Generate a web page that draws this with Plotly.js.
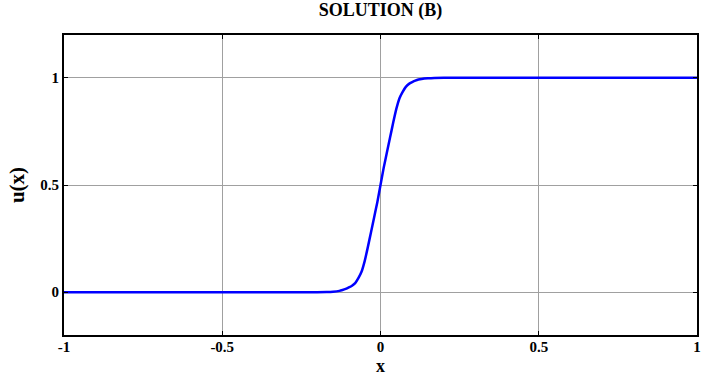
<!DOCTYPE html>
<html>
<head>
<meta charset="utf-8">
<script src="https://cdn.plot.ly/plotly-3.0.1.min.js"></script>
<style>html,body{margin:0;padding:0;background:#fff;}#chart{width:705px;height:377px;}</style>
</head>
<body>
<div id="chart"></div>
<script>
var xValues = [-1, -0.9, -0.8, -0.7, -0.6, -0.5, -0.4, -0.3, -0.2, -0.17, -0.15, -0.13, -0.12, -0.11, -0.1, -0.09, -0.08, -0.07, -0.06, -0.05, -0.04, -0.03, -0.02, -0.01, 0, 0.01, 0.02, 0.03, 0.04, 0.05, 0.06, 0.07, 0.08, 0.09, 0.1, 0.11, 0.12, 0.13, 0.15, 0.17, 0.2, 0.3, 0.4, 0.5, 0.6, 0.7, 0.8, 0.9, 1];
var uValues = [0, 0, 0, 0, 0, 0, 0, 0, 0, 0.0005, 0.002, 0.006, 0.01, 0.015, 0.022, 0.03, 0.042, 0.065, 0.095, 0.145, 0.21, 0.28, 0.35, 0.42, 0.5, 0.58, 0.65, 0.72, 0.79, 0.855, 0.905, 0.935, 0.958, 0.972, 0.98, 0.987, 0.992, 0.995, 0.998, 0.9995, 1, 1, 1, 1, 1, 1, 1, 1, 1];
var xTickVals = [-1, -0.5, 0, 0.5, 1];
var xTickText = ["-1", "-0.5", "0", "0.5", "1"];
var yTickVals = [0, 0.5, 1];
var yTickText = ["0", "0.5", "1"];

var font = "'Liberation Serif', 'Times New Roman', serif";
function bold(arr) { return arr.map(function (t) { return '<b>' + t + '</b>'; }); }
var trace = {
  x: xValues, y: uValues, type: 'scatter', mode: 'lines',
  line: {color: '#0000ff', width: 2.5, shape: 'spline', smoothing: 0.6},
  hoverinfo: 'none'
};
var axisCommon = {
  showgrid: true, gridcolor: '#a0a0a0', gridwidth: 1,
  zeroline: false, showline: true, linecolor: '#000', linewidth: 2,
  mirror: 'ticks', ticks: 'inside', ticklen: 4, tickcolor: '#000', tickwidth: 1,
  tickfont: {family: font, size: 15, color: '#000'}
};
var layout = {
  width: 705, height: 377,
  margin: {l: 64, r: 8, t: 35, b: 42},
  paper_bgcolor: '#fff', plot_bgcolor: '#fff',
  showlegend: false,
  title: {text: '<b>SOLUTION (B)</b>', font: {family: font, size: 18, color: '#000'}, xref: 'paper', x: 0.5, xanchor: 'center', yref: 'container', y: 0.99, yanchor: 'top'},
  xaxis: Object.assign({}, axisCommon, {
    range: [-1, 1], tickvals: xTickVals, ticktext: bold(xTickText), ticklabelstandoff: -3
  }),
  yaxis: Object.assign({}, axisCommon, {
    range: [-0.2, 1.2], tickvals: yTickVals, ticktext: bold(yTickText),
    title: {text: '<b>u(x)</b>', font: {family: font, size: 21, color: '#000'}, standoff: 10}
  }),
  annotations: [{
    text: '<b>x</b>', xref: 'paper', yref: 'paper', x: 0.5, y: 0,
    xanchor: 'center', yanchor: 'bottom', yshift: -42, showarrow: false, borderpad: 0,
    font: {family: font, size: 18, color: '#000'}
  }]
};
Plotly.newPlot('chart', [trace], layout, {staticPlot: true, displayModeBar: false});
</script>
</body>
</html>
